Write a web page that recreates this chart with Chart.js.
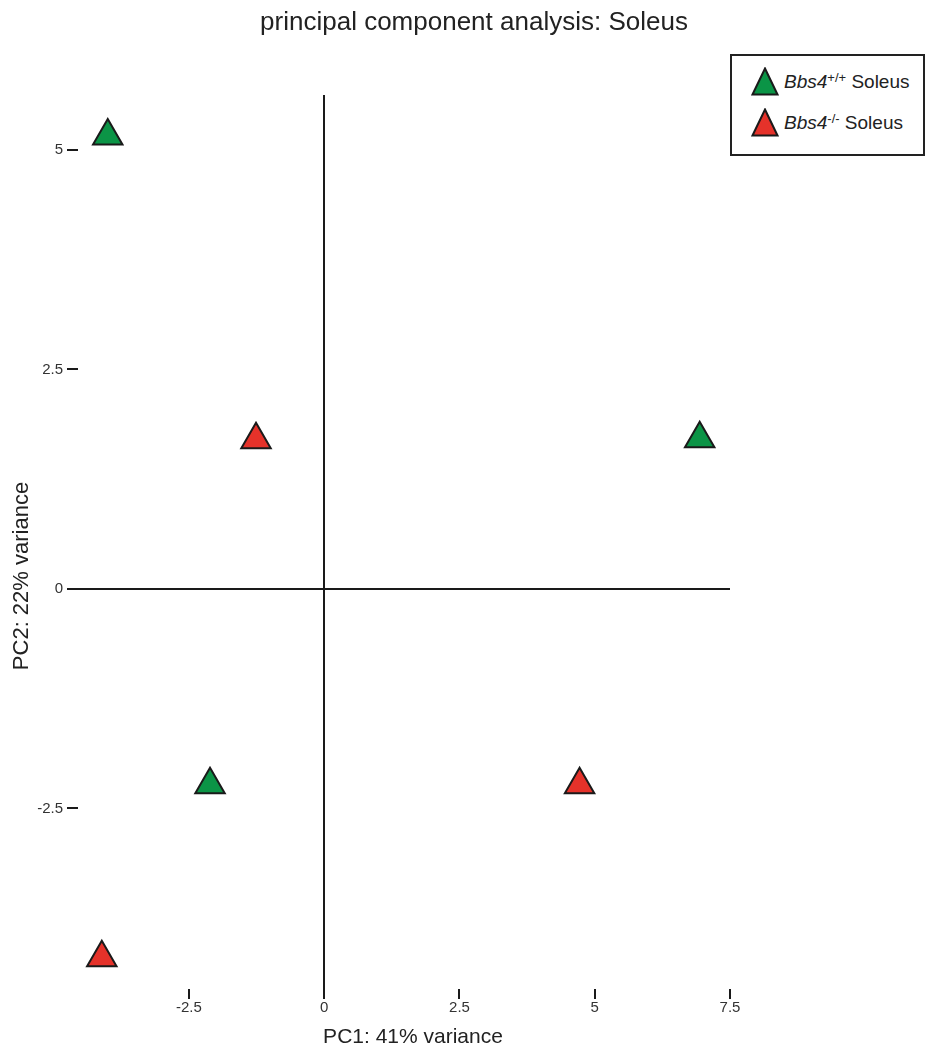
<!DOCTYPE html>
<html>
<head>
<meta charset="utf-8">
<title>principal component analysis: Soleus</title>
<script src="https://cdn.jsdelivr.net/npm/chart.js@4.4.1/dist/chart.umd.min.js"></script>
<style>
  html, body { margin: 0; padding: 0; background: #fff; }
  #wrap { position: relative; width: 927px; height: 1053px; }
  #pca { display: block; }
  #legend {
    position: absolute; left: 730px; top: 54px; width: 195px; height: 102px;
    box-sizing: border-box; border: 2px solid #222; background: #fff;
    font-family: 'Liberation Sans', Arial, sans-serif; font-size: 19px; color: #222;
  }
  #legend .item { position: absolute; left: 19px; height: 29px; display: flex; align-items: center; white-space: nowrap; }
  #legend svg { display: block; margin-right: 5px; }
  #legend sup { font-size: 13px; line-height: 0; vertical-align: 0.5em; }
</style>
</head>
<body>
<div id="wrap">
  <canvas id="pca" width="927" height="1053"></canvas>
  <div id="legend"></div>
</div>
<script>
// PCA sample scores, one pair of arrays per genotype
const wtPC1 = [-4.00, -2.11, 6.94];
const wtPC2 = [5.16, -2.23, 1.71];
const koPC1 = [-4.11, -1.26, 4.72];
const koPC2 = [-4.20, 1.70, -2.23];

// group labels
const geneName = ['Bbs4', 'Bbs4'];
const genotype = ['+/+', '-/-'];
const tissue = 'Soleus';
const groupColors = ['#0b9446', '#e5322a'];

// axes
const xTicks = [-2.5, 0, 2.5, 5, 7.5];
const yTicks = [-2.5, 0, 2.5, 5];
const xRange = [-4.55, 7.5];
const yRange = [-4.556, 5.626];

const chartTitle = 'principal component analysis: Soleus';
const xTitle = 'PC1: 41% variance';
const yTitle = 'PC2: 22% variance';

const FAMILY = "'Liberation Sans', Arial, sans-serif";
const font = size => ({ family: FAMILY, size: size });
const INK = '#1a1a1a';

const toPoints = (xs, ys) => xs.map((x, i) => ({ x: x, y: ys[i] }));

const zeroLine = c => (c.tick && c.tick.value === 0) ? INK : 'rgba(0,0,0,0)';

// chart title and the two axis titles
const textPlugin = {
  id: 'pcaText',
  afterDraw(chart) {
    const ctx = chart.ctx;
    ctx.save();
    ctx.fillStyle = '#222';
    ctx.textAlign = 'center';
    ctx.textBaseline = 'middle';
    ctx.font = '26px ' + FAMILY;
    ctx.fillText(chartTitle, 474, 23);
    ctx.font = '21px ' + FAMILY;
    ctx.fillText(xTitle, 413, 1037);
    ctx.translate(22, 576);
    ctx.rotate(-Math.PI / 2);
    ctx.font = '22px ' + FAMILY;
    ctx.fillText(yTitle, 0, 0);
    ctx.restore();
  }
};

const chart = new Chart(document.getElementById('pca'), {
  type: 'scatter',
  data: {
    datasets: [
      { label: geneName[0] + genotype[0] + ' ' + tissue, data: toPoints(wtPC1, wtPC2), backgroundColor: groupColors[0] },
      { label: geneName[1] + genotype[1] + ' ' + tissue, data: toPoints(koPC1, koPC2), backgroundColor: groupColors[1] }
    ]
  },
  options: {
    responsive: false,
    animation: false,
    devicePixelRatio: 1,
    layout: { padding: { top: 95, right: 197, bottom: 0, left: 0 } },
    elements: {
      point: { pointStyle: 'triangle', radius: 17, hoverRadius: 17, borderWidth: 2, borderColor: INK }
    },
    plugins: {
      legend: { display: false },
      tooltip: { enabled: false },
      title: { display: false }
    },
    scales: {
      x: {
        type: 'linear',
        min: xRange[0], max: xRange[1],
        afterBuildTicks: s => { s.ticks = xTicks.map(v => ({ value: v })); },
        afterFit: s => { s.height = 64; },
        ticks: { font: font(15), color: '#333', padding: 0, maxRotation: 0, autoSkip: false, callback: v => String(v) },
        grid: { color: zeroLine, lineWidth: 2, tickColor: INK, tickWidth: 2, tickLength: 10 },
        border: { display: false }
      },
      y: {
        type: 'linear',
        min: yRange[0], max: yRange[1],
        afterBuildTicks: s => { s.ticks = yTicks.map(v => ({ value: v })); },
        afterFit: s => { s.width = 78; },
        ticks: { font: font(15), color: '#333', padding: 4, autoSkip: false, callback: v => String(v) },
        grid: { color: zeroLine, lineWidth: 2, tickColor: INK, tickWidth: 2, tickLength: 11 },
        border: { display: false }
      }
    }
  },
  plugins: [textPlugin]
});

// legend with italic gene symbol and superscript genotype
const legendEl = document.getElementById('legend');
chart.data.datasets.forEach((ds, i) => {
  const item = document.createElement('div');
  item.className = 'item';
  item.style.top = (11 + i * 41) + 'px';
  item.innerHTML =
    '<svg width="28" height="29" viewBox="0 0 28 29">' +
    '<polygon points="14,1.5 26.5,27.5 1.5,27.5" fill="' + ds.backgroundColor + '" stroke="' + INK + '" stroke-width="2"/></svg>' +
    '<span><i>' + geneName[i] + '</i><sup>' + genotype[i] + '</sup> ' + tissue + '</span>';
  legendEl.appendChild(item);
});
</script>
</body>
</html>
